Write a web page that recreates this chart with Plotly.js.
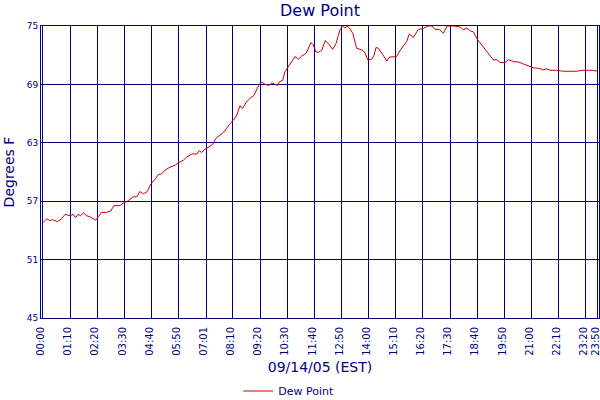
<!DOCTYPE html>
<html>
<head>
<meta charset="utf-8">
<script src="https://cdn.plot.ly/plotly-3.0.1.min.js"></script>
<style>
  html, body { margin: 0; padding: 0; background: #fff; }
  #chart { width: 600px; height: 400px; }
</style>
</head>
<body>
<div id="chart"></div>
<script>
// minutes after midnight, 09/14/05
const minutes = [
  0, 10, 18, 25, 37, 48, 57, 70, 78, 84, 91, 97, 104, 113, 121, 130, 136, 143, 151, 164,
  175, 183, 199, 207, 218, 233, 242, 250, 259, 269, 278, 289, 298, 306, 315, 328, 341, 349, 362, 371,
  384, 397, 403, 409, 418, 431, 439, 446, 457, 465, 474, 482, 491, 500, 508, 515, 525, 536, 543, 551,
  558, 564, 573, 583, 590, 599, 605, 611, 618, 624, 633, 640, 650, 659, 667, 679, 684, 691, 697, 704,
  710, 719, 728, 736, 747, 756, 762, 766, 772, 779, 785, 792, 799, 805, 809, 818, 825, 831, 838, 848,
  854, 859, 865, 874, 880, 887, 893, 904, 912, 921, 930, 938, 945, 955, 968, 981, 994, 1003, 1011, 1022,
  1033, 1042, 1059, 1076, 1084, 1093, 1102, 1110, 1119, 1127, 1136, 1145, 1153, 1162, 1170, 1179, 1192, 1200, 1213, 1226,
  1239, 1252, 1265, 1278, 1291, 1299, 1308, 1325, 1342, 1360, 1377, 1390, 1407, 1420, 1430
];
const dewPoint = [
  54.8, 55.2, 55.0, 55.1, 54.9, 55.2, 55.65, 55.5, 55.65, 55.3, 55.65, 55.5, 55.8, 55.5, 55.4, 55.15, 55.05, 55.4, 55.85, 55.85,
  56.0, 56.55, 56.55, 56.8, 57.0, 57.45, 57.45, 58.0, 57.75, 58.0, 58.75, 59.25, 59.75, 59.8, 60.2, 60.5, 60.7, 60.95, 61.2, 61.55,
  61.85, 61.85, 62.2, 62.0, 62.35, 62.65, 62.9, 63.45, 63.8, 64.05, 64.5, 64.95, 65.3, 65.85, 66.8, 66.55, 67.2, 67.65, 67.8, 68.4,
  69.0, 69.25, 69.0, 68.9, 69.15, 69.0, 68.9, 69.3, 69.4, 70.3, 70.8, 71.2, 71.85, 71.6, 71.9, 72.2, 72.7, 73.3, 73.05, 72.35,
  72.3, 72.5, 73.5, 73.2, 72.6, 73.2, 74.05, 74.6, 75.0, 74.8, 75.0, 74.7, 74.25, 73.2, 72.7, 72.6, 72.5, 72.2, 71.5, 71.6,
  72.0, 72.8, 72.7, 72.2, 71.8, 71.4, 71.8, 71.8, 71.85, 72.5, 73.05, 73.4, 74.2, 73.8, 74.65, 74.75, 75.0, 75.0, 74.65, 74.65,
  74.25, 75.0, 75.0, 74.9, 74.6, 74.8, 74.5, 74.4, 73.7, 73.3, 72.8, 72.3, 72.0, 71.5, 71.55, 71.25, 71.25, 71.55, 71.35, 71.3,
  71.1, 70.9, 70.7, 70.65, 70.5, 70.6, 70.45, 70.45, 70.35, 70.35, 70.35, 70.45, 70.45, 70.45, 70.35
];

const tickMinutes = [0, 70, 140, 210, 280, 350, 421, 490, 560, 630, 700, 770, 840, 910, 980, 1050, 1120, 1190, 1260, 1330, 1400, 1430];
const tickLabels = ['00:00', '01:10', '02:20', '03:30', '04:40', '05:50', '07:01', '08:10', '09:20', '10:30', '11:40',
                    '12:50', '14:00', '15:10', '16:20', '17:30', '18:40', '19:50', '21:00', '22:10', '23:20', '23:50'];
const yTicks = [45, 51, 57, 63, 69, 75];

const navy = '#000080';
const font = 'DejaVu Sans, Verdana, sans-serif';

const trace = {
    x: minutes,
    y: dewPoint,
    type: 'scatter',
    mode: 'lines',
    name: 'Dew Point',
    line: { color: '#cc0000', width: 1 },
    cliponaxis: false,
    hoverinfo: 'skip'
};

const layout = {
    width: 600,
    height: 400,
    margin: { l: 41, r: 1, t: 26, b: 82, autoexpand: false },
    paper_bgcolor: '#fff',
    plot_bgcolor: '#fff',
    font: { family: font, color: navy },
    title: {
        text: 'Dew Point',
        font: { family: font, size: 16, color: navy },
        x: 0.5, xref: 'paper', xanchor: 'center',
        y: 0.975, yanchor: 'middle'
    },
    xaxis: {
        range: [-5, 1434],
        automargin: false,
        tickmode: 'array',
        tickvals: tickMinutes,
        ticktext: tickLabels,
        tickangle: -90,
        tickfont: { family: font, size: 10, color: navy },
        ticklabeloverflow: 'allow',
        ticklabelstandoff: 4,
        ticklabelshift: -2,
        ticks: '',
        showgrid: true,
        gridcolor: navy,
        gridwidth: 1,
        showline: true,
        linecolor: navy,
        linewidth: 1,
        mirror: true,
        zeroline: false,
        title: {
            text: '09/14/05 (EST)',
            font: { family: font, size: 14, color: navy },
            standoff: 7
        }
    },
    yaxis: {
        range: [45, 75],
        automargin: false,
        tickmode: 'array',
        tickvals: yTicks,
        tickfont: { family: font, size: 9, color: navy },
        ticks: '',
        showgrid: true,
        gridcolor: navy,
        gridwidth: 1,
        showline: true,
        linecolor: navy,
        linewidth: 1,
        mirror: true,
        zeroline: false,
        title: {
            text: 'Degrees F',
            font: { family: font, size: 14, color: navy },
            standoff: 8
        }
    },
    showlegend: true,
    legend: {
        orientation: 'h',
        x: 0.444, xanchor: 'center',
        y: -0.25, yanchor: 'middle',
        font: { family: font, size: 11, color: navy },
        itemwidth: 30
    }
};

Plotly.newPlot('chart', [trace], layout, { displayModeBar: false, staticPlot: true });
</script>
</body>
</html>
